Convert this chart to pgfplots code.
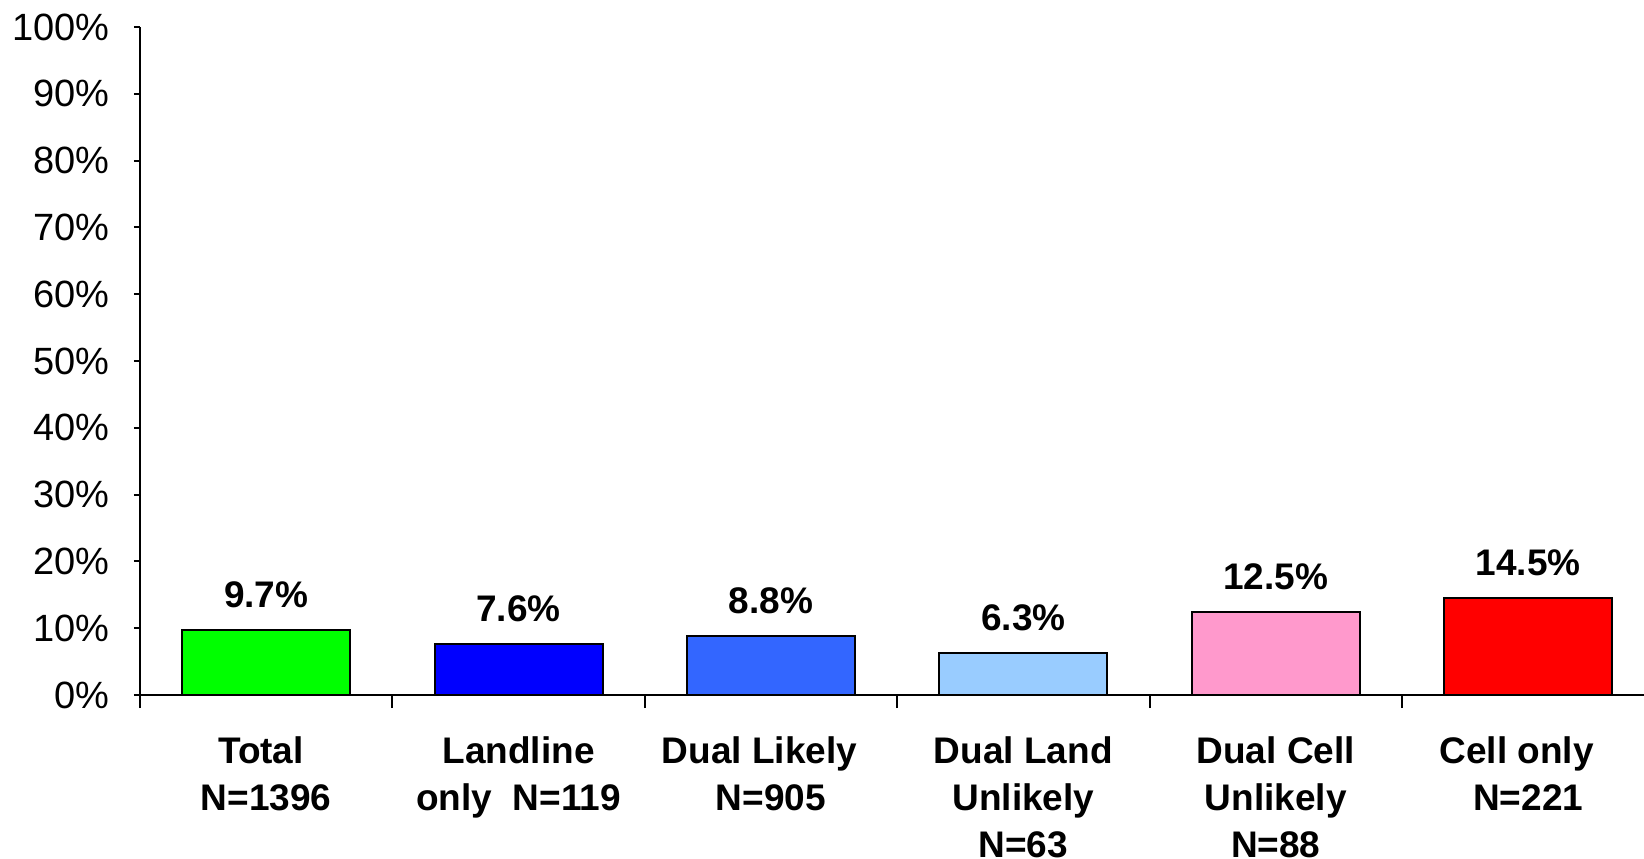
\documentclass[border=0pt]{standalone}
\usepackage{fontspec}
\setmainfont{Liberation Sans}
\usepackage{pgfplots}
\pgfplotsset{compat=1.18}
\definecolor{cTotal}{HTML}{00FF00}
\definecolor{cLand}{HTML}{0000FF}
\definecolor{cDualL}{HTML}{3366FF}
\definecolor{cDualLand}{HTML}{99CCFF}
\definecolor{cDualCell}{HTML}{FF99CC}
\definecolor{cCell}{HTML}{FF0000}
\begin{document}
\begin{tikzpicture}
\path[use as bounding box] (0,0) rectangle (822bp,-429.5bp);
\begin{axis}[
  at={(70bp,-347.5bp)}, anchor=south west,
  scale only axis, width=752bp, height=334bp,
  xmin=-0.5, xmax=5.459, ymin=0, ymax=100,
  axis x line=bottom, axis y line=left,
  axis line style={-, line width=1bp, black},
  tick align=outside,
  major tick length=3bp, minor tick length=6.5bp,
  ytick={0,10,...,100},
  yticklabels={0\%,10\%,20\%,30\%,40\%,50\%,60\%,70\%,80\%,90\%,100\%},
  major y tick style={line width=1bp, black},
  xtick={0,1,2,3,4,5},
  xticklabels={Total\hspace*{5.2bp}\\N=1396, Landline\\only\ \ N=119, Dual Likely\hspace*{11.5bp}\\N=905, Dual Land\\Unlikely\hspace*{6.3bp}\\N=63, Dual Cell\\Unlikely\hspace*{6.3bp}\\N=88, Cell only\hspace*{11.5bp}\\N=221},
  minor xtick={-0.5,0.5,1.5,2.5,3.5,4.5,5.5},
  major x tick style={draw=none},
  minor x tick style={line width=1bp, black},
  yticklabel style={font=\fontsize{19bp}{22bp}\selectfont, anchor=east, inner sep=0pt, xshift=-12bp},
  xticklabel style={font=\bfseries\fontsize{18.5bp}{23.5bp}\selectfont, align=center, anchor=north, inner sep=0pt, yshift=-17.5bp},
  ybar, bar width=0.666, bar shift=0pt,
  clip=false,
  nodes near coords={\pgfmathprintnumber[fixed,fixed zerofill,precision=1,assume math mode=true]{\pgfplotspointmeta}\%},
  every node near coord/.append style={font=\bfseries\fontsize{18.5bp}{22bp}\selectfont, inner sep=0pt, yshift=10.5bp, black},
]
\addplot[fill=cTotal, draw=black, line width=1bp, bar shift=0pt] coordinates {(0,9.7)};
\addplot[fill=cLand, draw=black, line width=1bp, bar shift=0pt] coordinates {(1,7.6)};
\addplot[fill=cDualL, draw=black, line width=1bp, bar shift=0pt] coordinates {(2,8.8)};
\addplot[fill=cDualLand, draw=black, line width=1bp, bar shift=0pt] coordinates {(3,6.3)};
\addplot[fill=cDualCell, draw=black, line width=1bp, bar shift=0pt] coordinates {(4,12.5)};
\addplot[fill=cCell, draw=black, line width=1bp, bar shift=0pt] coordinates {(5,14.5)};
\end{axis}
\end{tikzpicture}
\end{document}
